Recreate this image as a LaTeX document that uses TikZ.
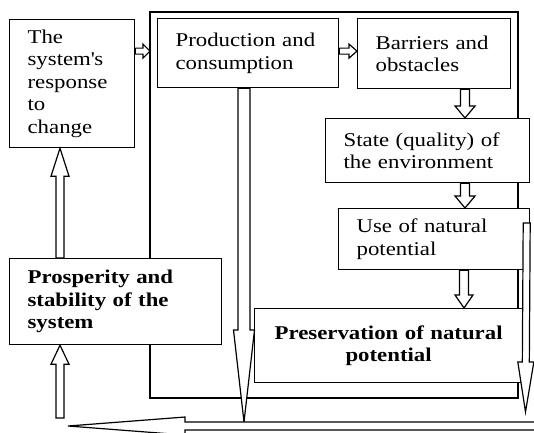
\documentclass[tikz,border=0pt]{standalone}
\usepackage{fontspec}
\setmainfont{Liberation Serif}[FakeStretch=1.17]
\usetikzlibrary{calc}

\tikzset{
  box/.style={draw,fill=white,anchor=north west,inner xsep=18pt,inner ysep=0pt,
    align=left,font=\fontsize{19.5}{22.5}\selectfont},
  boldbox/.style={box,font=\fontsize{19.5}{22.5}\selectfont\bfseries}
}
% hollow arrow: start, end, shaft half width, head half width, head length
\newcommand{\hollow}[5]{%
  \coordinate (hb) at ($(#2)!#5!(#1)$);
  \draw[fill=white] ($(#1)!#3!90:(#2)$) -- ($(hb)!#3!90:(#2)$) -- ($(hb)!#4!90:(#2)$) -- (#2)
    -- ($(hb)!#4!-90:(#2)$) -- ($(hb)!#3!-90:(#2)$) -- ($(#1)!#3!-90:(#2)$) -- cycle;}

\begin{document}
\begin{tikzpicture}[x=1pt,y=-1pt,line width=1.2pt]
\clip (0,0) rectangle (534,432);
% outer loop
\coordinate (fnw) at (150,12);
\coordinate (fse) at (518,398);
\draw (fnw) rectangle (fse);

\node[box,text width=89pt,minimum width=125pt,minimum height=128pt] (resp) at (9,19)
  {The\\system\textquotesingle s\\response\\to\\change};
\node[box,text width=145pt,minimum width=181pt,minimum height=69pt] (prod) at (157,18)
  {Production and\\consumption};
\node[box,text width=117pt,minimum width=153pt,minimum height=70pt] (barr) at (357,18)
  {Barriers and\\obstacles};
\node[box,text width=168pt,minimum width=204pt,minimum height=64pt] (state) at (325,118)
  {State (quality) of\\the environment};
\node[box,text width=155pt,minimum width=191pt,minimum height=61pt] (use) at (338,208)
  {Use of natural\\potential};
\node[boldbox,align=center,inner xsep=6pt,text width=256pt,minimum width=268pt,minimum height=74pt] (pres) at (254,308)
  {Preservation of natural\\potential};
\node[boldbox,text width=176pt,minimum width=212pt,minimum height=86pt] (prosp) at (9,258)
  {Prosperity and\\stability of the\\system};

% arrows along the chain
\coordinate (row) at ($(prod.west)+(0,-2)$);
\coordinate (a1) at (resp.east |- row);
\coordinate (a2) at (fnw |- row);
\hollow{a1}{a2}{3pt}{7pt}{7pt}
\coordinate (b1) at (prod.east |- row);
\coordinate (b2) at (barr.west |- row);
\hollow{b1}{b2}{3pt}{7pt}{8pt}
\coordinate (c1) at ($(barr.south west)+(108,0)$);
\coordinate (c2) at (c1 |- state.north);
\hollow{c1}{c2}{4.5pt}{10pt}{12pt}
\coordinate (d1) at (c1 |- state.south);
\coordinate (d2) at (c1 |- use.north);
\hollow{d1}{d2}{4.5pt}{10pt}{12pt}
\coordinate (e1) at ($(use.south west)+(126,0)$);
\coordinate (e2) at (e1 |- pres.north);
\hollow{e1}{e2}{4.5pt}{9pt}{13pt}

% left column
\coordinate (f1) at ($(prosp.north west)+(51,0)$);
\coordinate (f2) at (f1 |- resp.south);
\hollow{f1}{f2}{4pt}{9pt}{28pt}
\coordinate (feed) at (60,418);
\coordinate (g2) at (feed |- prosp.south);
\hollow{feed}{g2}{4pt}{9pt}{19pt}

% long return arrows
\coordinate (drop) at (244,422);
\coordinate (h1) at (drop |- prod.south);
\hollow{h1}{drop}{6pt}{10.5pt}{92pt}
\coordinate (rtop) at ($(use.north east)+(-3.5,15)$);
\coordinate (rtip) at (525.5,412);
\hollow{rtop}{rtip}{3.5pt}{8pt}{50pt}
\coordinate (tail) at (540,426);
\coordinate (tip) at (68,426);
\hollow{tail}{tip}{4pt}{9pt}{117pt}
\end{tikzpicture}
\end{document}
